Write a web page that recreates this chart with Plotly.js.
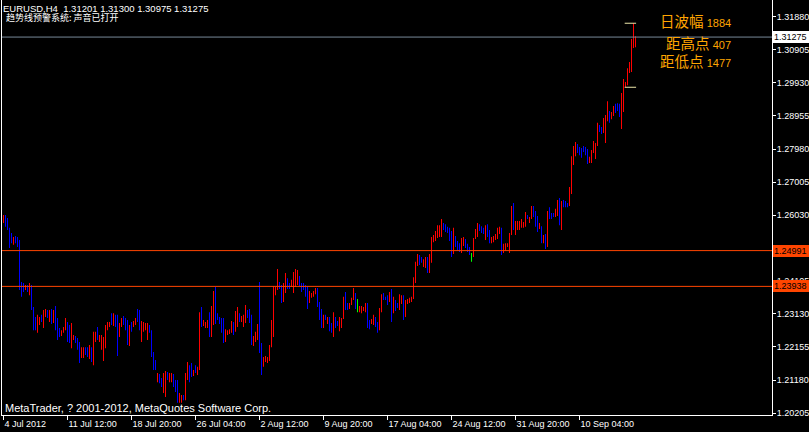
<!DOCTYPE html>
<html><head><meta charset="utf-8">
<script src="https://cdn.plot.ly/plotly-3.0.1.min.js"></script>
<style>html,body{margin:0;padding:0;background:#000;overflow:hidden}#chart{width:809px;height:432px}</style>
</head><body><div id="chart"></div>
<script>
// H4 bars, EURUSD (index 0 = 4 Jul 2012 00:00)
const highs = [
1.2604,1.2604,1.2595,1.2566,1.2551,1.2539,1.2542,1.2539,1.2530,1.2407,
1.2404,1.2398,1.2398,1.2404,1.2398,1.2333,1.2304,1.2310,1.2304,1.2310,
1.2324,1.2327,1.2324,1.2324,1.2327,1.2324,1.2336,1.2301,1.2271,1.2265,
1.2274,1.2301,1.2289,1.2280,1.2286,1.2251,1.2248,1.2242,1.2230,1.2215,
1.2215,1.2215,1.2215,1.2221,1.2215,1.2260,1.2260,1.2274,1.2251,1.2251,
1.2245,1.2280,1.2289,1.2289,1.2315,1.2315,1.2310,1.2310,1.2286,1.2301,
1.2307,1.2301,1.2295,1.2280,1.2289,1.2292,1.2301,1.2327,1.2324,1.2292,
1.2289,1.2286,1.2286,1.2280,1.2265,1.2201,1.2177,1.2139,1.2136,1.2124,
1.2139,1.2145,1.2142,1.2139,1.2139,1.2136,1.2118,1.2118,1.2080,1.2074,
1.2074,1.2139,1.2171,1.2162,1.2168,1.2148,1.2162,1.2157,1.2318,1.2333,
1.2295,1.2289,1.2295,1.2318,1.2336,1.2380,1.2392,1.2315,1.2304,1.2301,
1.2301,1.2268,1.2265,1.2268,1.2292,1.2289,1.2321,1.2333,1.2315,1.2307,
1.2310,1.2339,1.2324,1.2327,1.2310,1.2248,1.2260,1.2283,1.2407,1.2227,
1.2186,1.2189,1.2186,1.2221,1.2295,1.2395,1.2392,1.2445,1.2407,1.2398,
1.2404,1.2433,1.2418,1.2404,1.2413,1.2436,1.2445,1.2442,1.2424,1.2404,
1.2404,1.2398,1.2395,1.2380,1.2374,1.2380,1.2389,1.2389,1.2348,1.2327,
1.2310,1.2310,1.2304,1.2304,1.2286,1.2318,1.2304,1.2292,1.2304,1.2301,
1.2363,1.2377,1.2345,1.2345,1.2360,1.2389,1.2374,1.2357,1.2336,1.2336,
1.2333,1.2345,1.2345,1.2295,1.2298,1.2310,1.2304,1.2289,1.2330,1.2371,
1.2374,1.2363,1.2368,1.2377,1.2386,1.2363,1.2354,1.2345,1.2371,1.2368,
1.2368,1.2354,1.2357,1.2360,1.2363,1.2421,1.2466,1.2489,1.2486,1.2480,
1.2474,1.2480,1.2480,1.2489,1.2539,1.2545,1.2557,1.2574,1.2574,1.2592,
1.2580,1.2577,1.2569,1.2566,1.2557,1.2566,1.2542,1.2527,1.2521,1.2536,
1.2539,1.2533,1.2519,1.2510,1.2492,1.2536,1.2563,1.2580,1.2577,1.2571,
1.2566,1.2574,1.2577,1.2560,1.2539,1.2542,1.2548,1.2566,1.2569,1.2566,
1.2519,1.2521,1.2521,1.2551,1.2630,1.2639,1.2586,1.2586,1.2586,1.2592,
1.2583,1.2613,1.2604,1.2598,1.2630,1.2630,1.2616,1.2601,1.2580,1.2571,
1.2545,1.2548,1.2616,1.2627,1.2610,1.2610,1.2622,1.2648,1.2654,1.2645,
1.2648,1.2645,1.2639,1.2686,1.2777,1.2807,1.2819,1.2813,1.2804,1.2801,
1.2807,1.2804,1.2798,1.2775,1.2795,1.2822,1.2816,1.2875,1.2869,1.2863,
1.2889,1.2898,1.2939,1.2910,1.2907,1.2925,1.2931,1.2933,1.2931,1.2963,
1.3004,1.2995,1.3036,1.3054,1.3122,1.3168,1.3130];
const lows = [
1.2580,1.2569,1.2560,1.2507,1.2521,1.2516,1.2521,1.2510,1.2383,1.2363,
1.2377,1.2383,1.2377,1.2368,1.2324,1.2265,1.2265,1.2257,1.2280,1.2289,
1.2271,1.2304,1.2301,1.2289,1.2283,1.2286,1.2265,1.2236,1.2245,1.2248,
1.2257,1.2265,1.2230,1.2227,1.2212,1.2236,1.2227,1.2207,1.2168,1.2183,
1.2183,1.2192,1.2186,1.2180,1.2171,1.2162,1.2230,1.2236,1.2230,1.2207,
1.2174,1.2212,1.2265,1.2274,1.2280,1.2277,1.2274,1.2189,1.2245,1.2274,
1.2280,1.2265,1.2221,1.2218,1.2260,1.2274,1.2280,1.2289,1.2265,1.2230,
1.2260,1.2265,1.2236,1.2257,1.2186,1.2148,1.2148,1.2112,1.2109,1.2098,
1.2080,1.2068,1.2118,1.2112,1.2112,1.2098,1.2083,1.2051,1.2051,1.2051,
1.2059,1.2059,1.2118,1.2112,1.2127,1.2130,1.2139,1.2133,1.2148,1.2274,
1.2277,1.2271,1.2271,1.2245,1.2245,1.2280,1.2283,1.2295,1.2283,1.2257,
1.2227,1.2230,1.2251,1.2254,1.2257,1.2251,1.2260,1.2274,1.2289,1.2289,
1.2274,1.2286,1.2301,1.2286,1.2221,1.2218,1.2230,1.2236,1.2198,1.2133,
1.2157,1.2171,1.2168,1.2174,1.2215,1.2245,1.2368,1.2383,1.2386,1.2345,
1.2348,1.2374,1.2386,1.2386,1.2392,1.2374,1.2392,1.2398,1.2395,1.2377,
1.2383,1.2363,1.2327,1.2345,1.2360,1.2363,1.2371,1.2333,1.2295,1.2271,
1.2271,1.2295,1.2283,1.2262,1.2257,1.2245,1.2271,1.2277,1.2262,1.2271,
1.2298,1.2324,1.2324,1.2327,1.2339,1.2354,1.2327,1.2318,1.2318,1.2315,
1.2321,1.2318,1.2271,1.2268,1.2283,1.2280,1.2274,1.2257,1.2265,1.2318,
1.2354,1.2354,1.2339,1.2348,1.2289,1.2315,1.2321,1.2330,1.2324,1.2342,
1.2295,1.2304,1.2342,1.2345,1.2348,1.2357,1.2404,1.2454,1.2457,1.2463,
1.2451,1.2448,1.2433,1.2433,1.2463,1.2524,1.2527,1.2536,1.2539,1.2539,
1.2560,1.2554,1.2551,1.2527,1.2480,1.2489,1.2510,1.2498,1.2495,1.2492,
1.2513,1.2507,1.2495,1.2486,1.2466,1.2480,1.2533,1.2539,1.2557,1.2551,
1.2548,1.2530,1.2539,1.2521,1.2521,1.2524,1.2530,1.2533,1.2548,1.2486,
1.2492,1.2498,1.2510,1.2492,1.2545,1.2560,1.2545,1.2560,1.2560,1.2566,
1.2566,1.2569,1.2592,1.2580,1.2592,1.2598,1.2569,1.2554,1.2563,1.2521,
1.2521,1.2504,1.2510,1.2592,1.2592,1.2598,1.2598,1.2601,1.2574,1.2560,
1.2627,1.2627,1.2627,1.2630,1.2666,1.2751,1.2777,1.2786,1.2780,1.2772,
1.2789,1.2780,1.2754,1.2757,1.2757,1.2786,1.2769,1.2807,1.2848,1.2842,
1.2845,1.2816,1.2880,1.2875,1.2886,1.2895,1.2904,1.2910,1.2892,1.2857,
1.2907,1.2980,1.2986,1.3022,1.3025,1.3095,1.30975];
// r = up bar, b = down bar, g = unchanged bar
const dirs = ("rbbbbrbbbb"+"brbrbbbrrb"+"rrbrbrbbbr"+"rrbbrrbbbr"+"rbbrbrrbrr"+
  "rrrrbrbbrr"+"bbbrbrrbbr"+"rrrbbbbrbb"+"rrbrrbbbrr"+"brrbbrbrrb"+
  "rrrbrrbbbb"+"brrrrbrrbr"+"rrbbbrrrbb"+"rrrrrrrrbb"+"rrbbrrrrbb"+
  "bbbrrrrbbb"+"rbrbbrbbrr"+"rbbrrrbgrr"+"rrbbrrbbrr"+"bbbrbrbbrr"+
  "brrrrrrrbb"+"rrbrrrrrrr"+"bbbbbrbbbr"+"rbbbgrrrbb"+"brbbrrrrrb"+
  "rrrrrbrrrr"+"rrbrrbbbrb"+"rbrbbbrrbr"+"bbbrrrrbbb"+"bbbrrrrrbb"+
  "rrrbrrbbbr"+"rrrrrrr").split("");

const xTickIdx = [0,32,64,96,128,160,192,224,256,288];
const xTickLabels = ['4 Jul 2012','11 Jul 12:00','18 Jul 20:00','26 Jul 04:00','2 Aug 12:00',
  '9 Aug 20:00','17 Aug 04:00','24 Aug 12:00','31 Aug 20:00','10 Sep 04:00'];
const yTickLabels = ['1.31880','1.30905','1.29930','1.28955','1.27980','1.27005','1.26030',
  '1.25055','1.24105','1.23130','1.22155','1.21180','1.20205'];
const bidPrice = 1.31275;
const alertLevels = [1.24991, 1.23938];
const dayHigh = 1.31682, dayLow = 1.29798, dayFirstBar = 311;
const headerText = 'EURUSD,H4  1.31201 1.31300 1.30975 1.31275';
const alertText = '趋势线预警系统: 声音已打开';
const infoLabels = ['日波幅','距高点','距低点'];
const infoValues = [1884, 407, 1477];
const copyrightText = 'MetaTrader, ? 2001-2012, MetaQuotes Software Corp.';

const colorMap = {r:'#FF0000', b:'#0000FF', g:'#00FF00'};
const traces = ['r','b','g'].map(k => {
  const xs=[], bs=[], hs=[];
  dirs.forEach((d,i)=>{ if(d===k){ xs.push(i); bs.push(lows[i]); hs.push(highs[i]-lows[i]); } });
  return {type:'bar', x:xs, y:hs, base:bs, width:0.3,
    marker:{color:colorMap[k], line:{width:0}}, hoverinfo:'skip', showlegend:false};
});

const lastBar = highs.length - 1;
const PLOT_W = 770, PLOT_H = 415, L = 2;
const px = v => (v - L) / PLOT_W;
const py = v => 1 - v / PLOT_H;

const shapes = [
  ...alertLevels.map(p => ({type:'line', xref:'paper', x0:0, x1:1, yref:'y', y0:p, y1:p,
     line:{color:'#FF4500', width:1}})),
  {type:'line', xref:'paper', x0:0, x1:1, yref:'y', y0:bidPrice, y1:bidPrice, line:{color:'#778899', width:1}},
  {type:'line', xref:'x', x0:dayFirstBar-0.4, x1:lastBar+0.3, yref:'y', y0:dayHigh, y1:dayHigh, line:{color:'#EEE8AA', width:1}},
  {type:'line', xref:'x', x0:dayFirstBar-0.4, x1:lastBar+0.3, yref:'y', y0:dayLow, y1:dayLow, line:{color:'#EEE8AA', width:1}}
];

const priceBox = (p, bg) => ({xref:'paper', x:px(773), xanchor:'left', yref:'y', y:p, yanchor:'middle',
  text:p.toFixed(5), showarrow:false, bgcolor:bg, borderpad:1, borderwidth:0, width:34, height:10, align:'left',
  font:{family:'Liberation Sans', size:9, color:'#000'}});

const infoY = [20, 42, 61];
const annotations = [
  {xref:'paper', x:px(1), xanchor:'left', yref:'paper', y:py(8.5), yanchor:'middle', text:headerText,
   showarrow:false, font:{family:'Liberation Sans', size:9.5, color:'#fff'}},
  {xref:'paper', x:px(4), xanchor:'left', yref:'paper', y:py(17.5), yanchor:'middle', text:alertText,
   showarrow:false, font:{family:'Noto Sans CJK SC', size:9, color:'#fff'}},
  ...infoLabels.map((t,i)=>({xref:'paper', x:px(733), xanchor:'right', yref:'paper', y:py(infoY[i]), yanchor:'middle',
   text: t + ' <span style="font-family:Liberation Sans;font-size:11px">' + infoValues[i] + '</span>',
   showarrow:false, font:{family:'Noto Sans CJK SC', size:14.5, color:'#FFA500'}})),
  {xref:'paper', x:px(3), xanchor:'left', yref:'paper', y:py(407.5), yanchor:'middle', text:copyrightText,
   showarrow:false, font:{family:'Liberation Sans', size:11, color:'#fff'}},
  priceBox(bidPrice, '#FFFFFF'),
  ...alertLevels.map(p => priceBox(p, '#FF4500'))
];

const layout = {
  width:809, height:432, margin:{l:L, r:37, t:0, b:17, pad:0},
  paper_bgcolor:'#000', plot_bgcolor:'#000', barmode:'overlay', showlegend:false,
  xaxis:{range:[-0.75, 384.25], tickmode:'array', tickvals:xTickIdx, ticktext:xTickLabels,
    ticks:'outside', ticklen:4, tickcolor:'#fff', tickwidth:1, showline:true, linecolor:'#fff', linewidth:1,
    showgrid:false, zeroline:false, ticklabelposition:'outside right', fixedrange:true,
    tickfont:{family:'Liberation Sans', size:9, color:'#fff'}},
  yaxis:{side:'right', range:[1.20153, 1.32366], tickmode:'array', tickvals:yTickLabels.map(Number), ticktext:yTickLabels,
    ticks:'outside', ticklen:3, tickcolor:'#fff', tickwidth:1, showline:true, mirror:true, linecolor:'#fff', linewidth:1,
    showgrid:false, zeroline:false, fixedrange:true, ticklabelstandoff:-1,
    tickfont:{family:'Liberation Sans', size:9, color:'#fff'}},
  shapes, annotations
};
Plotly.newPlot('chart', traces, layout, {displayModeBar:false, staticPlot:false});
</script></body></html>
